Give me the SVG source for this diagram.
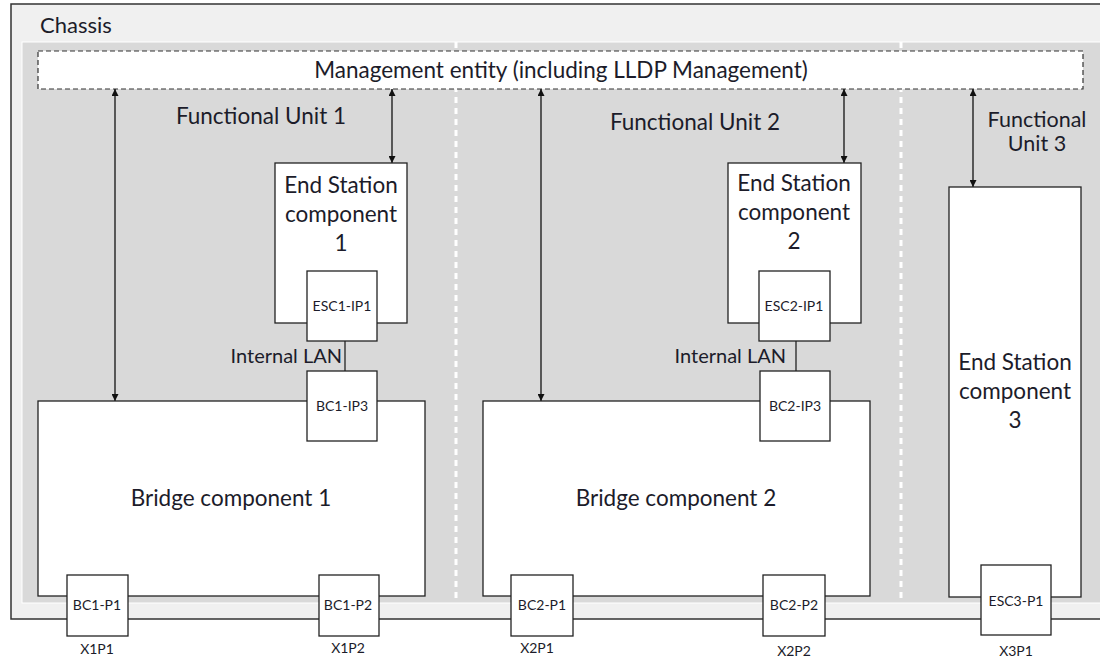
<svg xmlns="http://www.w3.org/2000/svg" width="1100" height="657" viewBox="0 0 1100 657">
<defs>
<marker id="ah" viewBox="0 0 10 10" refX="10" refY="5" markerWidth="9" markerHeight="7" markerUnits="userSpaceOnUse" orient="auto-start-reverse">
<path d="M0,0 L10,5 L0,10 z" fill="#111"/>
</marker>
<style>
text{font-family:Lato,"Liberation Sans",sans-serif;fill:#1c1c2a}
.lg{font-size:22.5px;text-anchor:middle}
.md{font-size:20px}
.sm{font-size:14px;text-anchor:middle}
.box{fill:#fff;stroke:#222;stroke-width:1.3}
.arr{stroke:#111;stroke-width:1.3;fill:none;marker-start:url(#ah);marker-end:url(#ah)}
.div{stroke:#fff;stroke-width:3;stroke-dasharray:6 5}
</style>
</defs>
<g id="chassis">
<rect x="11" y="4" width="1100" height="615" fill="#f0f0f0" stroke="#333" stroke-width="1.5"/>
<rect x="22" y="42" width="1090" height="561" fill="#d9d9d9" stroke="#fff" stroke-width="1"/>
<line class="div" x1="456" y1="42" x2="456" y2="602"/>
<line class="div" x1="901" y1="42" x2="901" y2="602"/>
<text x="40" y="33" style="font-size:22px">Chassis</text>
</g>
<g id="mgmt">
<rect x="38" y="51" width="1045" height="38" fill="#fff" stroke="#333" stroke-width="1.2" stroke-dasharray="5 3"/>
<text class="lg" x="561" y="78">Management entity (including LLDP Management)</text>
</g>
<g id="labels">
<text class="lg" x="261" y="124">Functional Unit 1</text>
<text class="lg" x="695" y="130">Functional Unit 2</text>
<text x="1037" y="127" style="font-size:21.5px;text-anchor:middle">Functional</text>
<text x="1037" y="151" style="font-size:21.5px;text-anchor:middle">Unit 3</text>
</g>
<g id="connectors">
<line class="arr" x1="115" y1="89" x2="115" y2="401"/>
<line class="arr" x1="392" y1="89" x2="392" y2="163"/>
<line class="arr" x1="541" y1="89" x2="541" y2="401"/>
<line class="arr" x1="844" y1="89" x2="844" y2="163"/>
<line class="arr" x1="973" y1="89" x2="973" y2="187"/>
<line x1="345" y1="340" x2="345" y2="371" stroke="#222" stroke-width="1.3"/>
<line x1="796" y1="340" x2="796" y2="371" stroke="#222" stroke-width="1.3"/>
<text class="md" x="342" y="363" text-anchor="end">Internal LAN</text>
<text class="md" x="786" y="363" text-anchor="end">Internal LAN</text>
</g>
<g id="esc1">
<rect class="box" x="275" y="163" width="132" height="160"/>
<text class="lg" x="341" y="193">End Station</text>
<text class="lg" x="341" y="222">component</text>
<text class="lg" x="341" y="251">1</text>
</g>
<g id="esc1-ip1">
<rect class="box" x="307" y="271" width="70" height="70"/>
<text class="sm" x="342" y="311">ESC1-IP1</text>
</g>
<g id="bc1">
<rect class="box" x="38" y="401" width="387" height="195"/>
<text class="lg" x="231" y="506">Bridge component 1</text>
</g>
<g id="bc1-ip3">
<rect class="box" x="307" y="371" width="70" height="70"/>
<text class="sm" x="342" y="411">BC1-IP3</text>
</g>
<g id="bc1-p1">
<rect class="box" x="67" y="575" width="61" height="61"/>
<text class="sm" x="97" y="610">BC1-P1</text>
<text class="sm" x="97" y="654">X1P1</text>
</g>
<g id="bc1-p2">
<rect class="box" x="319" y="575" width="60" height="61"/>
<text class="sm" x="348" y="610">BC1-P2</text>
<text class="sm" x="348" y="653">X1P2</text>
</g>
<g id="esc2">
<rect class="box" x="728" y="163" width="133" height="160"/>
<text class="lg" x="794" y="191">End Station</text>
<text class="lg" x="794" y="220">component</text>
<text class="lg" x="794" y="249">2</text>
</g>
<g id="esc2-ip1">
<rect class="box" x="759" y="271" width="71" height="70"/>
<text class="sm" x="794" y="311">ESC2-IP1</text>
</g>
<g id="bc2">
<rect class="box" x="483" y="401" width="387" height="195"/>
<text class="lg" x="676" y="506">Bridge component 2</text>
</g>
<g id="bc2-ip3">
<rect class="box" x="760" y="371" width="70" height="70"/>
<text class="sm" x="795" y="411">BC2-IP3</text>
</g>
<g id="bc2-p1">
<rect class="box" x="511" y="575" width="62" height="61"/>
<text class="sm" x="542" y="610">BC2-P1</text>
<text class="sm" x="537" y="653">X2P1</text>
</g>
<g id="bc2-p2">
<rect class="box" x="763" y="575" width="62" height="61"/>
<text class="sm" x="794" y="610">BC2-P2</text>
<text class="sm" x="794" y="656">X2P2</text>
</g>
<g id="esc3">
<rect class="box" x="949" y="187" width="132" height="410"/>
<text class="lg" x="1015" y="370">End Station</text>
<text class="lg" x="1015" y="399">component</text>
<text class="lg" x="1015" y="428">3</text>
</g>
<g id="esc3-p1">
<rect class="box" x="981" y="565" width="70" height="70"/>
<text class="sm" x="1016" y="606">ESC3-P1</text>
<text class="sm" x="1016" y="656">X3P1</text>
</g>
</svg>
